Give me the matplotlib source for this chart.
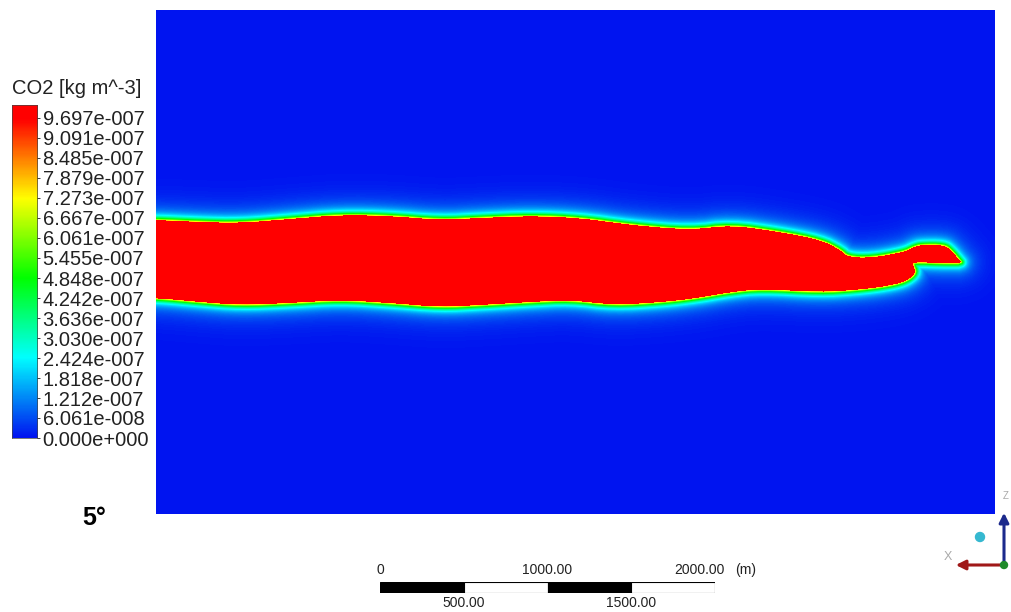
import numpy as np
import matplotlib
matplotlib.use("Agg")
import matplotlib.pyplot as plt
from matplotlib.path import Path
from matplotlib.patches import Rectangle, Circle
from matplotlib.colors import LinearSegmentedColormap, Normalize

plt.rcParams['font.family'] = ['Liberation Sans', 'DejaVu Sans']

# domain (m)
domain_w = 5000.0
domain_h = 3000.0
co2_max = 9.697e-7

# plume outline (m), upper edge left -> right
upper_x = [-200, 0, 263, 501, 800, 1098, 1396, 1695, 1933, 2232, 2530, 2828,
           3186, 3425, 3723, 3962, 4081, 4123, 4260, 4457, 4517, 4559, 4696,
           4738, 4797]
upper_z = [1750, 1750, 1738, 1732, 1756, 1780, 1774, 1750, 1762, 1774, 1762,
           1720, 1690, 1720, 1678, 1631, 1571, 1530, 1524, 1559, 1589, 1601,
           1601, 1571, 1500]
# lower edge from the tip back to the inlet (incl. the hook)
lower_x = [4780, 4678, 4517, 4511, 4529, 4499, 4439, 4320, 4159, 3962, 3604,
           3425, 3228, 3025, 2727, 2470, 2232, 1933, 1695, 1396, 1098, 800,
           501, 263, 0, -200]
lower_z = [1494, 1494, 1500, 1482, 1440, 1405, 1375, 1351, 1333, 1321, 1339,
           1321, 1286, 1262, 1244, 1274, 1262, 1244, 1232, 1256, 1274, 1256,
           1244, 1262, 1286, 1286]

# legend
cb_ticks = [0.0, 6.061e-8, 1.212e-7, 1.818e-7, 2.424e-7, 3.030e-7, 3.636e-7,
            4.242e-7, 4.848e-7, 5.455e-7, 6.061e-7, 6.667e-7, 7.273e-7,
            7.879e-7, 8.485e-7, 9.091e-7, 9.697e-7]
cb_labels = ["0.000e+000", "6.061e-008", "1.212e-007", "1.818e-007",
             "2.424e-007", "3.030e-007", "3.636e-007", "4.242e-007",
             "4.848e-007", "5.455e-007", "6.061e-007", "6.667e-007",
             "7.273e-007", "7.879e-007", "8.485e-007", "9.091e-007",
             "9.697e-007"]

# scale bar (m)
scale_edges = [0, 500, 1000, 1500, 2000]
scale_top_labels = ["0", "1000.00", "2000.00"]
scale_bot_labels = ["500.00", "1500.00"]

cmap = LinearSegmentedColormap.from_list(
    "cfx_rainbow",
    [(0.0, "#0014f0"), (0.25, "#00ffff"), (0.5, "#00ff00"),
     (0.75, "#ffff00"), (1.0, "#ff0000")])
norm = Normalize(0, co2_max)


def chaikin(pts, n=2):
    # round off the corners of an open polyline, keep the end points
    for _ in range(n):
        q = 0.75 * pts[:-1] + 0.25 * pts[1:]
        r = 0.25 * pts[:-1] + 0.75 * pts[1:]
        mid = np.empty((2 * len(q), 2))
        mid[0::2] = q
        mid[1::2] = r
        pts = np.vstack([pts[:1], mid, pts[-1:]])
    return pts


def plume_field(nx, nz):
    up = chaikin(np.column_stack([upper_x, upper_z]).astype(float))
    lo = chaikin(np.column_stack([lower_x, lower_z]).astype(float))
    poly = np.vstack([up, lo])
    xs = (np.arange(nx) + 0.5) * domain_w / nx
    zs = (np.arange(nz) + 0.5) * domain_h / nz
    X, Z = np.meshgrid(xs, zs)
    pts = np.column_stack([X.ravel(), Z.ravel()])
    inside = Path(poly).contains_points(pts)

    m_per_px = domain_w / nx
    dmin = np.full(len(pts), np.inf)
    segs = np.vstack([poly, poly[:1]])
    for a, b in zip(segs[:-1], segs[1:]):
        ab = b - a
        t = np.clip(((pts - a) @ ab) / (ab @ ab), 0, 1)
        d = np.hypot(*(pts - a - t[:, None] * ab).T)
        dmin = np.minimum(dmin, d)
    d_px = dmin / m_per_px
    val = 0.55 * np.exp(-d_px / 3.0) + 0.25 * np.exp(-d_px / 10.0)
    val[inside] = 1.2
    return (val * co2_max).reshape(nz, nx)


fig = plt.figure(figsize=(10.11, 6.12), dpi=100)
W, H = 1011.0, 612.0


def box(x0, y0, x1, y1):
    return [x0 / W, 1 - y1 / H, (x1 - x0) / W, (y1 - y0) / H]


# main contour
ax = fig.add_axes(box(156, 10, 995, 514))
field = plume_field(839, 504)
ax.imshow(field, cmap=cmap, norm=norm, origin="lower",
          extent=[0, domain_w, 0, domain_h], aspect="auto",
          interpolation="bilinear")
ax.set_xlim(0, domain_w)
ax.set_ylim(0, domain_h)
ax.axis("off")

# colour legend
vtop = 1.009e-6
cax = fig.add_axes(box(12, 105, 37, 438))
grad = np.linspace(0, vtop, 300).reshape(-1, 1)
cax.imshow(grad, cmap=cmap, norm=norm, origin="lower",
           extent=[0, 1, 0, vtop], aspect="auto")
cax.set_xlim(0, 1)
cax.set_ylim(0, vtop)
cax.set_xticks([])
cax.yaxis.tick_right()
cax.set_yticks(cb_ticks)
cax.set_yticklabels(cb_labels)
cax.tick_params(axis="y", length=2, width=0.6, pad=2, labelsize=14.5,
                colors="#222222")
for s in cax.spines.values():
    s.set_linewidth(0.5)
    s.set_color("#444444")
fig.text(12 / W, 1 - 88 / H, "CO2 [kg m^-3]", ha="left", va="center",
         fontsize=14.5, color="#222222")

fig.text(82 / W, 1 - 518 / H, "5°", ha="left", va="center",
         fontsize=18, fontweight="bold", color="black")

# scale bar
sax = fig.add_axes(box(380, 582, 715, 593))
sax.set_xlim(0, 2000)
sax.set_ylim(0, 1)
for i, (a, b) in enumerate(zip(scale_edges[:-1], scale_edges[1:])):
    sax.add_patch(Rectangle((a, 0), b - a, 1,
                            facecolor="black" if i % 2 == 0 else "white",
                            edgecolor="black", linewidth=0.8))
sax.axis("off")
for xv, lab in zip([0, 1000, 1910], scale_top_labels):
    sax.text(xv, 2.1, lab, ha="center", va="center", fontsize=10,
             color="#222222", clip_on=False)
sax.text(2185, 2.1, "(m)", ha="center", va="center", fontsize=10,
         color="#222222", clip_on=False)
for xv, lab in zip([500, 1500], scale_bot_labels):
    sax.text(xv, -0.9, lab, ha="center", va="center", fontsize=10,
             color="#222222", clip_on=False)

# axis triad
tax = fig.add_axes(box(935, 488, 1011, 580))
tax.set_xlim(935, 1011)
tax.set_ylim(580, 488)
tax.axis("off")
tax.annotate("", xy=(1004, 510), xytext=(1004, 565),
             arrowprops=dict(arrowstyle="-|>", color="#1c2a8c", lw=2.2,
                             mutation_scale=14))
tax.annotate("", xy=(953, 565), xytext=(1004, 565),
             arrowprops=dict(arrowstyle="-|>", color="#a01818", lw=2.2,
                             mutation_scale=14))
tax.add_patch(Circle((1004, 565), 3.5, color="#1f8a2a", zorder=5))
tax.add_patch(Circle((980, 537), 4.5, color="#35b8d0", zorder=5))
tax.text(948, 557, "X", fontsize=9, color="#aaaaaa", ha="center",
         va="center")
tax.text(1003, 496, "Z", fontsize=7, color="#aaaaaa", ha="left",
         va="center")

fig.savefig("out.png", dpi=100)
